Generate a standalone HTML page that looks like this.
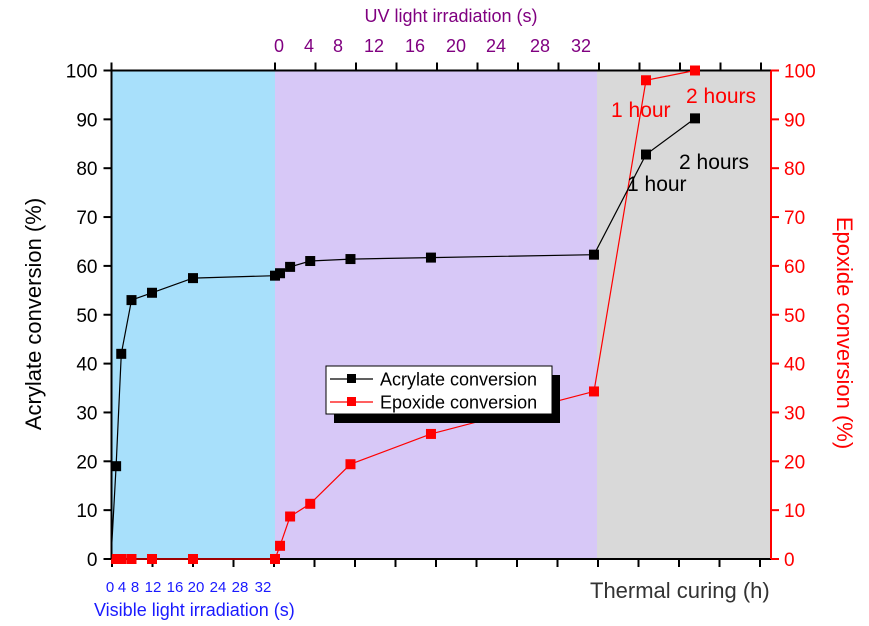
<!DOCTYPE html>
<html><head><meta charset="utf-8"><style>
body{margin:0;background:#fff;}
svg{display:block;font-family:"Liberation Sans",sans-serif;}
</style></head><body>
<svg id="chart" width="869" height="626" viewBox="0 0 869 626">
<g id="bg"></g><g id="axes"></g><g id="marks"></g><g id="labels"></g>
</svg>
<script>
// data: phase 0 = visible (s), 1 = UV (s), 2 = thermal (h)
const acrPhase=[0,0,0,0,0,0,0,1,1,1,1,1,1,2,2];
const acrTime=[0,1,2,4,8,16,32,0.5,1.5,3.5,7.5,15.5,31.7,1,2];
const acrVals=[0,19,42,53,54.5,57.5,58,58.5,59.8,61,61.4,61.7,62.3,82.8,90.2];
const epoPhase=[0,0,0,0,0,0,1,1,1,1,1,1,2,2];
const epoTime=[1,2,4,8,16,32,0.5,1.5,3.5,7.5,15.5,31.7,1,2];
const epoVals=[0,0,0,0,0,0,2.7,8.7,11.3,19.4,25.6,34.3,98,100];
const yTicks=[0,10,20,30,40,50,60,70,80,90,100];
const visLabels=["0","4","8","12","16","20","24","28","32"];
const uvLabels=["0","4","8","12","16","20","24","28","32"];

const L=111.5,R=771,T=70.5,B=559;
function y(v){return B-(B-T)*v/100;}
function x(p,t){
  if(p===0) return 111+t*(275-111)/32;
  if(p===1) return 275+t*(597-275)/32;
  return 597+t*49;
}
const NS="http://www.w3.org/2000/svg";
function mk(parent,tag,attrs){const e=document.createElementNS(NS,tag);for(const k in attrs)e.setAttribute(k,attrs[k]);document.getElementById(parent).appendChild(e);return e;}

let r;
r=mk('bg','rect',{x:L,y:T,width:275-L,height:B-T,fill:'#a8e0fb'});

r=mk('bg','rect',{x:275,y:T,width:322,height:B-T,fill:'#d7c8f7'});

r=mk('bg','rect',{x:597,y:T,width:R-597,height:B-T,fill:'#d9d9d9'});


let a;
a=mk('axes','line',{x1:L,y1:T-8,x2:L,y2:B,stroke:'#000','stroke-width':2});

a=mk('axes','line',{x1:L-8,y1:B,x2:R,y2:B,stroke:'#000','stroke-width':2});

a=mk('axes','line',{x1:L,y1:T,x2:R,y2:T,stroke:'#000','stroke-width':2});

a=mk('axes','line',{x1:R,y1:T,x2:R,y2:B,stroke:'#f00','stroke-width':2});


yTicks.forEach(v=>{
  let t=mk('axes','line',{x1:L-8,y1:y(v),x2:L,y2:y(v),stroke:'#000','stroke-width':2});
  
  let s=mk('labels','text',{x:L-14,y:y(v)+7,'text-anchor':'end','font-size':19,fill:'#000'});
  s.textContent=v;
  t=mk('axes','line',{x1:R,y1:y(v),x2:R+8,y2:y(v),stroke:'#f00','stroke-width':2});
  
  s=mk('labels','text',{x:R+13,y:y(v)+7,'text-anchor':'start','font-size':19,fill:'#f00'});
  s.textContent=v;
});
for(let i=0;i<17;i++){
  const xx=112+i*40.5;
  let t=mk('axes','line',{x1:xx,y1:B,x2:xx,y2:B+8,stroke:'#000','stroke-width':2});
  
}
for(let i=0;i<13;i++){
  const xx=275+i*40.5;
  let t=mk('axes','line',{x1:xx,y1:T-8,x2:xx,y2:T,stroke:'#000','stroke-width':2});
  
}
const visX=[110,122,135,153,175,196,218,240,263];
visLabels.forEach((l,i)=>{
  const s=mk('labels','text',{x:visX[i],y:592,'text-anchor':'middle','font-size':15,fill:'#1a1aff'});
  s.textContent=l;
});
const uvX=[279,309,338,374,415,456,496,540,581];
uvLabels.forEach((l,i)=>{
  const s=mk('labels','text',{x:uvX[i],y:52,'text-anchor':'middle','font-size':18,fill:'#800080'});
  s.textContent=l;
});

function series(ph,ts,vs,col,name){
  const pts=vs.map((v,i)=>x(ph[i],ts[i]).toFixed(1)+','+y(v).toFixed(1)).join(' ');
  const pl=mk('marks','polyline',{points:pts,fill:'none',stroke:col,'stroke-width':1.2});
  
  vs.forEach((v,i)=>{
    if(name==='acrylate'&&i===0) return;
    const p=mk('marks','rect',{x:x(ph[i],ts[i])-5,y:y(v)-5,width:10,height:10,fill:col});
    
  });
}
series(epoPhase,epoTime,epoVals,'#f00','epoxide');
series(acrPhase,acrTime,acrVals,'#000','acrylate');
</script>
<script>
const svg=document.getElementById('labels');
svg.insertAdjacentHTML('beforeend',`
<rect x="334" y="375" width="226" height="48" fill="#000"/>
<rect x="326" y="366" width="226" height="48" fill="#fff" stroke="#000" stroke-width="1"/>
<g>
<line x1="330" y1="379" x2="373" y2="379" stroke="#000" stroke-width="1.2"/><rect x="347" y="374" width="9" height="9" fill="#000"/>
<text x="380" y="385.5" font-size="18" fill="#000">Acrylate conversion</text></g>
<g>
<line x1="330" y1="402" x2="373" y2="402" stroke="#f00" stroke-width="1.2"/><rect x="347" y="397" width="9" height="9" fill="#f00"/>
<text x="380" y="408.5" font-size="18" fill="#000">Epoxide conversion</text></g>
<text x="611" y="117" font-size="21" fill="#f00">1 hour</text>
<text x="686" y="103" font-size="21" fill="#f00">2 hours</text>
<text x="627" y="191" font-size="21" fill="#000">1 hour</text>
<text x="679" y="169" font-size="21" fill="#000">2 hours</text>
<text x="451" y="22" font-size="18" fill="#800080" text-anchor="middle">UV light irradiation (s)</text>
<text x="94" y="616" font-size="18" fill="#1a1aff">Visible light irradiation (s)</text>
<text x="590" y="598" font-size="22" fill="#333">Thermal curing (h)</text>
<text transform="translate(41,314) rotate(-90)" font-size="22" fill="#000" text-anchor="middle">Acrylate conversion (%)</text>
<text transform="translate(837,333) rotate(90)" font-size="22" fill="#f00" text-anchor="middle">Epoxide conversion (%)</text>
`);
</script>
</body></html>
